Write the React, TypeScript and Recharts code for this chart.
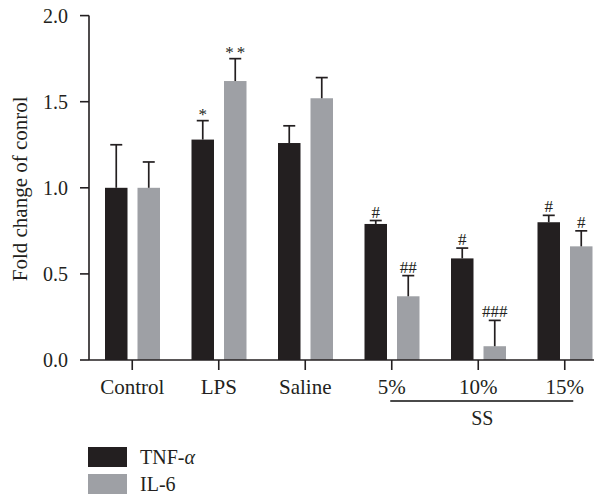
import { BarChart, Bar, XAxis, YAxis, Legend } from "recharts";

const categories = ["Control", "LPS", "Saline", "5%", "10%", "15%"];
const tnfValues = [1.0, 1.28, 1.26, 0.79, 0.59, 0.8];
const tnfErrors = [0.25, 0.11, 0.1, 0.02, 0.06, 0.04];
const tnfMarks = ["", "*", "", "#", "#", "#"];
const il6Values = [1.0, 1.62, 1.52, 0.37, 0.08, 0.66];
const il6Errors = [0.15, 0.13, 0.12, 0.12, 0.15, 0.09];
const il6Marks = ["", "**", "", "##", "###", "#"];
const yTicks = [0, 0.5, 1.0, 1.5, 2.0];
const seriesOrder = ["tnf", "il6"];

const rows = categories.map((name, i) => ({
  name,
  tnf: tnfValues[i],
  tnfErr: tnfErrors[i],
  tnfMark: tnfMarks[i],
  il6: il6Values[i],
  il6Err: il6Errors[i],
  il6Mark: il6Marks[i],
}));

const W = 610;
const H = 494;
const INK = "#231f20";
const GREY = "#9ea0a5";
const FONT = "'Liberation Serif', 'DejaVu Serif', serif";

// bar + one-sided error bar + significance mark
function barShape(key: "tnf" | "il6") {
  return (props: any) => {
    const { x, y, width, height, fill, payload } = props;
    const v = payload[key];
    const err = payload[key + "Err"];
    const mark = payload[key + "Mark"];
    const pxPerUnit = v ? height / v : 0;
    const cx = x + width / 2;
    const top = y - err * pxPerUnit;
    const starry = mark.startsWith("*");
    return (
      <g>
        <rect x={x} y={y} width={width} height={height} fill={fill} />
        <line x1={cx} x2={cx} y1={y} y2={top} stroke={INK} strokeWidth={1.7} />
        <line x1={cx - 6} x2={cx + 6} y1={top} y2={top} stroke={INK} strokeWidth={1.7} />
        {mark && (
          <text
            x={cx + (starry ? 1.5 : 0)}
            y={top - (starry ? 1 : 3)}
            textAnchor="middle"
            fontFamily={FONT}
            fontSize={17}
            letterSpacing={starry ? 3 : 0}
            fill={INK}
          >
            {mark}
          </text>
        )}
      </g>
    );
  };
}

function CatTick(props: any) {
  const { x, y, payload } = props;
  return (
    <g>
      <text x={x} y={y} dy="0.71em" textAnchor="middle" fontFamily={FONT} fontSize={21} fill={INK}>
        {payload.value}
      </text>
      {payload.value === "10%" && (
        <g>
          <line x1={x - 88} x2={x + 95} y1={y + 22} y2={y + 22} stroke="#4a4a4a" strokeWidth={2} />
          <text x={x + 4} y={y + 46} textAnchor="middle" fontFamily={FONT} fontSize={20} fill={INK}>
            SS
          </text>
        </g>
      )}
    </g>
  );
}

function yLabel(props: any) {
  const vb = props.viewBox;
  const cy = vb.y + vb.height / 2 + 1;
  return (
    <text
      x={27.5}
      y={cy}
      transform={`rotate(-90, 27.5, ${cy})`}
      textAnchor="middle"
      fontFamily={FONT}
      fontSize={21}
      fill={INK}
    >
      Fold change of conrol
    </text>
  );
}

function LegendBox(props: any) {
  const items = [...(props.payload || [])].sort(
    (a: any, b: any) => seriesOrder.indexOf(a.dataKey) - seriesOrder.indexOf(b.dataKey)
  );
  return (
    <div style={{ fontFamily: FONT, fontSize: 20, color: INK }}>
      {items.map((it: any, i: number) => (
        <div key={i} style={{ display: "flex", alignItems: "center", height: 27 }}>
          <div style={{ width: 39, height: 20, background: it.color, marginRight: 13 }} />
          <span style={{ lineHeight: "20px" }}>
            {it.value === "TNF-α" ? (
              <>
                TNF-<i>α</i>
              </>
            ) : (
              it.value
            )}
          </span>
        </div>
      ))}
    </div>
  );
}

export default function App() {
  return (
    <div style={{ margin: "-8px 0 0 -8px", width: 602, height: H, overflow: "hidden" }}>
      <BarChart
        width={W}
        height={H}
        data={rows}
        margin={{ top: 15.6, right: 2, left: 8, bottom: 0 }}
        barGap={10}
        barSize={22.5}
      >
        <XAxis
          dataKey="name"
          height={134}
          tickSize={10}
          tickMargin={9}
          tick={<CatTick />}
          axisLine={{ stroke: INK, strokeWidth: 1.6 }}
          tickLine={{ stroke: INK, strokeWidth: 1.6 }}
        />
        <YAxis
          width={81}
          domain={[0, 2]}
          ticks={yTicks}
          interval={0}
          tickFormatter={(v: number) => v.toFixed(1)}
          tickSize={9}
          tickMargin={12}
          tick={{ fontFamily: FONT, fontSize: 20, fill: INK }}
          axisLine={{ stroke: INK, strokeWidth: 1.6 }}
          tickLine={{ stroke: INK, strokeWidth: 1.6 }}
          label={yLabel}
        />
        <Legend
          layout="horizontal"
          verticalAlign="middle"
          align="center"
          wrapperStyle={{ left: 88, top: 443, width: 200 }}
          content={<LegendBox />}
        />
        <Bar dataKey="tnf" name="TNF-α" fill={INK} shape={barShape("tnf")} isAnimationActive={false} />
        <Bar dataKey="il6" name="IL-6" fill={GREY} shape={barShape("il6")} isAnimationActive={false} />
      </BarChart>
    </div>
  );
}
